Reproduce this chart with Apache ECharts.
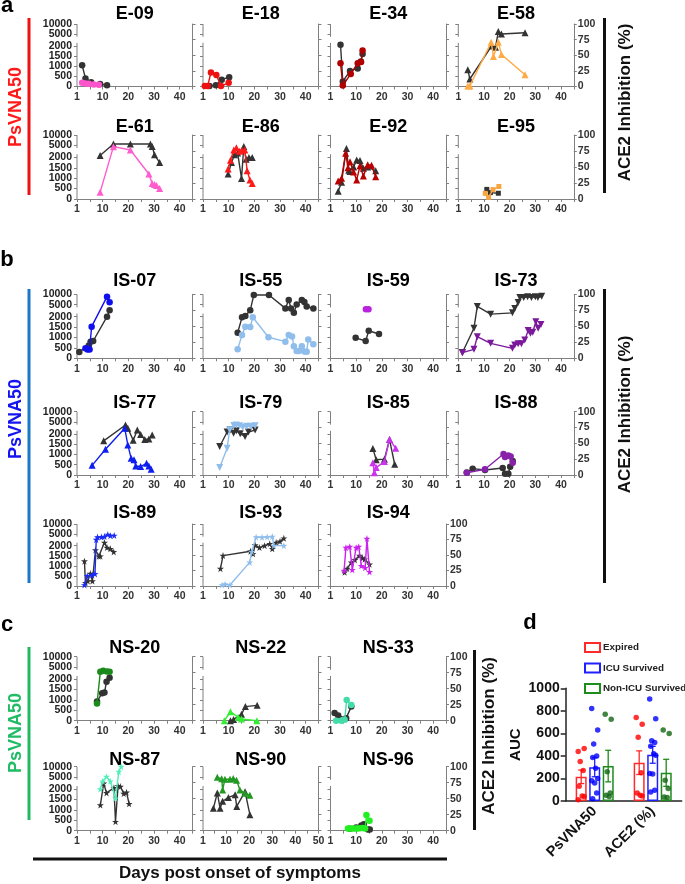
<!DOCTYPE html>
<html lang="en">
<head>
<meta charset="UTF-8">
<title>PsVNA50 and ACE2 inhibition kinetics</title>
<script src="https://cdn.jsdelivr.net/npm/echarts@6/dist/echarts.min.js"></script>
<style>
  html, body { margin: 0; padding: 0; background: #fff; }
  #main { width: 685px; height: 884px; }
</style>
</head>
<body>
<div id="main"></div>
<script>
// ---- data: [day, PsVNA50] (coloured, left axis) and [day, ACE2 %] (black, right axis)
const E09_psv = [[2,180],[3.3,145],[4.6,140],[6.5,100],[8.5,80]];
const E09_ace = [[2,34],[3.3,13],[5.5,7],[9,4],[11.7,2]];
const E18_psv = [[0.7,30],[1.8,20],[3.1,690],[5.2,570],[7,20],[10,180]];
const E18_ace = [[2.5,1],[5,2],[7.3,11],[10.2,15]];
const E34_psv = [[3.9,1150],[4.8,50],[7.9,620],[10.6,1150],[11.9,1200],[12.5,1770]];
const E34_ace = [[3.9,67],[4.8,8],[7.6,25],[10.6,29],[11.8,40],[12.5,52]];
const E58_psv = [[3.7,30],[4.5,30],[12.8,2180],[13.7,1480],[15.6,2180],[16.8,1570],[26,575]];
const E58_ace = [[3.7,27],[4.5,12],[13,65],[14.5,63],[15.6,88],[16.8,84],[26,86]];
const E61_psv = [[9,320],[14.2,4400],[20.8,2800],[28,1200],[29.3,750],[30.2,700],[31,650],[32.2,510]];
const E61_ace = [[9,68],[14.2,86],[20.8,86],[28.6,86],[29.3,82],[30.2,69],[32.2,57]];
const E86_psv = [[9.8,1440],[10.7,1860],[12,2800],[13,3900],[14.3,2300],[15.2,2700],[16.3,2800],[17.2,1360],[18.3,910],[19.2,750]];
const E86_ace = [[9.8,39],[11.1,57],[12.3,69],[13.5,72],[15,32],[15.9,82],[16.8,62],[17.9,65],[19.2,65]];
const E92_psv = [[3,870],[4.3,1000],[5.9,2200],[6.8,1500],[7.6,1790],[9,1300],[10.2,910],[11.5,1600],[12.8,1100],[14.5,1650],[16,1620],[17.6,1070]];
const E92_ace = [[3,12],[4.3,26],[6.2,79],[7.1,45],[7.6,43],[9,50],[10.2,61],[11.5,60],[12.8,48],[14.5,50],[17.6,44]];
const E95_psv = [[10.5,270],[11.8,80],[13.5,450],[15.8,600]];
const E95_ace = [[11.1,15],[12.5,10],[15.6,9]];

const IS07_psv = [[3.3,480],[4.1,420],[4.9,420],[5.7,1520],[11.7,8850],[12.7,6150]];
const IS07_ace = [[0.9,10],[4.6,20],[5.3,26],[6.3,27],[11.7,65],[12.7,75]];
const IS55_psv = [[13.5,430],[15.2,1120],[16.5,1520],[18.4,1500],[19.4,1970],[25.5,1010],[32.1,800],[33.4,1120],[34.7,1050],[35.4,580],[36.5,350],[37.3,350],[38.5,580],[39.5,330],[40.4,320],[41,900],[43,680]];
const IS55_ace = [[13.5,40],[15.2,64],[16.5,66],[18.4,75],[19.8,99],[25.7,99],[32.1,78],[33.4,91],[34.3,78],[35.4,71],[36.5,84],[38.5,91],[39.5,88],[40.4,81],[43,78]];
const IS59_psv = [[13.8,2800],[14.8,2800]];
const IS59_ace = [[9.8,32],[13.7,27],[14.9,43],[18.9,38]];
const IS73_psv = [[1.6,270],[6.1,430],[7.4,1040],[12.6,720],[21.1,480],[22,640],[23.3,700],[24.6,700],[25.9,880],[27.2,1330],[28.1,1200],[29,1250],[30.2,1760],[31.1,1440],[32.2,1620]];
const IS73_ace = [[1.6,9],[6.1,47],[7.4,81],[12.6,69],[21.1,71],[22,78],[23.3,87],[24,95],[25.5,95],[27,96],[28.5,95],[30,96],[31,95],[32.5,97]];
const IS77_psv = [[5.9,470],[11.1,1250],[18.6,2270],[19.8,1460],[21.1,810],[22.2,740],[22.9,440],[24.8,410],[27.1,570],[28,440],[28.9,280]];
const IS77_ace = [[10.4,54],[18.9,79],[19.8,74],[21.9,55],[23.5,71],[24.8,64],[26.4,56],[28,57],[29.3,63]];
const IS79_psv = [[6.5,370],[9.4,1300],[10.4,2180],[12,3300],[13,3550],[14.3,3150],[15.5,2500],[17,2900],[18.5,2900],[20.3,3150]];
const IS79_ace = [[6.5,45],[9.4,68],[10.6,71],[11.9,66],[13,70],[14.5,65],[16.4,61],[17.7,68],[20.3,71]];
const IS85_psv = [[16.5,600],[17.1,110],[17.8,360],[21,650],[23,1735],[25.4,1300]];
const IS85_ace = [[16.5,42],[17.8,24],[21,25],[23,56],[25,17]];
const IS88_psv = [[3.3,110],[10.4,280],[17.6,1020],[18.2,880],[19.5,950],[20.4,900],[21.2,600]];
const IS88_ace = [[3.3,4],[5.6,10],[10.4,8],[17.3,11],[18.2,2],[19.5,2],[20.2,13],[21.2,22]];
const IS89_psv = [[2.9,50],[4,500],[5.9,550],[7,600],[7.5,2300],[8,3500],[9.5,3500],[10.7,3800],[12,4800],[13,4200],[14.5,4300]];
const IS89_ace = [[2.9,40],[3.3,5],[4.2,8],[5.2,20],[6,8],[7.2,58],[8.5,48],[9.1,48],[10.7,70],[11.7,62],[13,60],[14.3,55]];
const IS93_psv = [[7.4,50],[8.6,90],[10.5,50],[18.2,1170],[19,1700],[20.7,3500],[23,3400],[25,3600],[27,3800],[27.6,2000],[31.5,2000]];
const IS93_ace = [[6.8,28],[7.8,49],[18.5,56],[19.5,52],[20.3,66],[22,62],[24,65],[26,68],[27,60],[28.5,70],[30,72],[31.5,77]];
const IS94_psv = [[5.3,765],[6,1900],[7.5,1950],[8.5,800],[10,1900],[11,1950],[12,1000],[13.5,900],[14.2,2750],[15.2,700]];
const IS94_ace = [[5.5,22],[6.5,28],[8.1,38],[9.5,42],[11.3,49],[12.5,45],[13.3,43],[15.2,35]];

const NS20_psv = [[7.8,830],[9.1,2800],[10.2,3250],[11.7,2900],[12.7,2800]];
const NS20_ace = [[7.8,30],[9.8,43],[10.7,44],[11.5,61],[12.7,67]];
const NS22_psv = [[8.3,0],[10.7,430],[13.7,170],[15,80],[21,0]];
const NS22_ace = [[10.7,0],[11.9,2],[15,10],[16.5,22],[21.1,24]];
const NS33_psv = [[2.2,0],[4.2,0],[5.5,40],[6.3,990],[8.1,760]];
const NS33_ace = [[1.6,12],[3,8],[6.1,4],[8.1,22]];
const NS87_psv = [[9.1,2000],[10,3000],[11.5,5200],[13,3000],[15,1560],[16.3,7600],[17.2,10000]];
const NS87_ace = [[9.1,40],[10.4,74],[11.5,59],[14.4,67],[15,14],[16,70],[16.9,69],[18.2,58],[19.3,60],[20.3,42]];
const NS90_psv = [[6.2,4900],[8.1,4200],[8.5,1960],[9.5,4000],[11.7,4000],[13.1,4300],[14.5,3500],[16,1960],[18.2,1800],[20.3,1700]];
const NS90_ace = [[4.5,35],[6.2,59],[7.4,35],[8.5,46],[11,52],[13.9,56],[14.6,38],[18.2,61],[20.3,25]];
const NS96_psv = [[6.8,110],[7.5,100],[8.5,100],[9.5,110],[10.5,100],[11.5,120],[12.5,130],[13.5,110],[14,755],[15.2,480]];
const NS96_ace = [[7.5,3],[10,5],[12,8],[13,10],[14.6,2],[15.3,2]];

// panel d: AUC
const dCats = ['PsVNA50', 'ACE2 (%)'];
const expiredMean = [215, 340];
const expiredSem = [60, 105];
const icuMean = [300, 410];
const icuSem = [85, 75];
const nonIcuMean = [310, 250];
const nonIcuSem = [140, 120];
const expiredPts = [[440,465,350,270,130,45,40,10], [740,680,565,250,70,50,45]];
const icuPts = [[820,630,505,400,385,290,200,180,160,70,20], [905,730,535,520,485,420,405,245,240,95,80]];
const nonIcuPts = [[770,725,260,70,50,40], [630,600,185,110,35,30]];

// left (PsVNA50) axis is piecewise: 0-2000 fine, 5000/10000 compressed
const LEFT_TICKS = [0, 500, 1000, 1500, 2000, 5000, 10000];
function toUnit(v) { return v <= 2305 ? v / 500 : 4.15 + v / 5000; }
const Y_TOP = toUnit(10000);
const LEFT_TICK_U = LEFT_TICKS.map(toUnit);
const BRK_LO = toUnit(2150), BRK_HI = toUnit(3700);

const STAR = 'path://M5,0 L6.2,3.6 L10,3.6 L6.9,5.9 L8.1,9.5 L5,7.3 L1.9,9.5 L3.1,5.9 L0,3.6 L3.8,3.6 Z';
const INV_TRI = 'path://M0,0 L10,0 L5,9 Z';

// layout
const COL_X = [77, 203, 330.5, 458.3];
const PW = 115.5;
const ROWS = {
  a1: [24, 86.5, 14], a2: [135, 199, 127],
  b1: [294.3, 358.3, 281], b2: [411.7, 475, 403], b3: [524, 586, 513],
  c1: [656.7, 720.7, 648], c2: [766.7, 830.7, 760]
};
const LAST_COL = {a1: 3, a2: 3, b1: 3, b2: 3, b3: 2, c1: 2, c2: 2};

const PANELS = [
  ['E-09', 0, 'a1', 'circle', '#ff55cc', E09_psv, E09_ace],
  ['E-18', 1, 'a1', 'circle', '#ee1111', E18_psv, E18_ace],
  ['E-34', 2, 'a1', 'circle', '#b00000', E34_psv, E34_ace],
  ['E-58', 3, 'a1', 'triangle', '#ffaa44', E58_psv, E58_ace],
  ['E-61', 0, 'a2', 'triangle', '#ff5ccd', E61_psv, E61_ace],
  ['E-86', 1, 'a2', 'triangle', '#ff1a1a', E86_psv, E86_ace],
  ['E-92', 2, 'a2', 'triangle', '#b80000', E92_psv, E92_ace],
  ['E-95', 3, 'a2', 'rect', '#f7a540', E95_psv, E95_ace],
  ['IS-07', 0, 'b1', 'circle', '#1010ee', IS07_psv, IS07_ace],
  ['IS-55', 1, 'b1', 'circle', '#8fbdec', IS55_psv, IS55_ace],
  ['IS-59', 2, 'b1', 'circle', '#bb22dd', IS59_psv, IS59_ace],
  ['IS-73', 3, 'b1', INV_TRI, '#7a1a9a', IS73_psv, IS73_ace],
  ['IS-77', 0, 'b2', 'triangle', '#0d1ef0', IS77_psv, IS77_ace],
  ['IS-79', 1, 'b2', INV_TRI, '#8fbdec', IS79_psv, IS79_ace],
  ['IS-85', 2, 'b2', 'triangle', '#cc33ee', IS85_psv, IS85_ace],
  ['IS-88', 3, 'b2', 'circle', '#8822aa', IS88_psv, IS88_ace],
  ['IS-89', 0, 'b3', STAR, '#1a2af5', IS89_psv, IS89_ace],
  ['IS-93', 1, 'b3', STAR, '#8fbdec', IS93_psv, IS93_ace],
  ['IS-94', 2, 'b3', STAR, '#cc22ee', IS94_psv, IS94_ace],
  ['NS-20', 0, 'c1', 'circle', '#1a8a1a', NS20_psv, NS20_ace],
  ['NS-22', 1, 'c1', 'triangle', '#33ee33', NS22_psv, NS22_ace],
  ['NS-33', 2, 'c1', 'circle', '#44ddaa', NS33_psv, NS33_ace],
  ['NS-87', 0, 'c2', STAR, '#55eebb', NS87_psv, NS87_ace],
  ['NS-90', 1, 'c2', 'triangle', '#229922', NS90_psv, NS90_ace, 50],
  ['NS-96', 2, 'c2', 'circle', '#22ee22', NS96_psv, NS96_ace]
];

const FONT = '"Liberation Sans", Arial, sans-serif';
const AXIS_GREY = '#808080';

const grid = [], xAxis = [], yAxis = [], series = [], graphic = [];

PANELS.forEach(function (p, i) {
  const name = p[0], col = p[1], rowKey = p[2], sym = p[3], color = p[4];
  const psv = p[5], ace = p[6], xm = p[7] || 45;
  const row = ROWS[rowKey];
  const left = COL_X[col], top = row[0], h = row[1] - row[0];
  grid.push({left: left, top: top, width: PW, height: h});

  const xt = [], xl = [];
  for (let d = 0; d <= xm; d += 5) { xt.push(d); if (d % 10 === 0) xl.push(d); }
  xAxis.push({
    gridIndex: i, type: 'value', min: 0, max: xm,
    axisLine: {lineStyle: {color: AXIS_GREY, width: 1}},
    axisTick: {customValues: xt, length: 3, lineStyle: {color: AXIS_GREY}},
    axisLabel: {customValues: xl, formatter: function (v) { return v === 0 ? '1' : String(v); },
      hideOverlap: false, showMinLabel: true, showMaxLabel: true,
      fontSize: 10.5, fontWeight: 'bold', color: '#333', margin: 5, fontFamily: FONT},
    splitLine: {show: false}
  });
  // left labels are drawn after layout (see below), the axis itself only gives ticks
  yAxis.push({
    gridIndex: i, type: 'value', min: 0, max: Y_TOP, position: 'left',
    axisLine: {show: false},
    axisTick: {show: true, customValues: LEFT_TICK_U, length: 3, lineStyle: {color: AXIS_GREY}},
    axisLabel: {show: false},
    splitLine: {show: false}
  });
  yAxis.push({
    gridIndex: i, type: 'value', min: 0, max: 100, interval: 25, position: 'right',
    axisLine: {show: true, lineStyle: {color: AXIS_GREY, width: 1}},
    axisTick: {show: true, length: 3, lineStyle: {color: AXIS_GREY}},
    axisLabel: {show: col === LAST_COL[rowKey], hideOverlap: false, showMinLabel: true, showMaxLabel: true,
      fontSize: 10.5, lineHeight: 10, fontWeight: 'bold', color: '#333', margin: 4, fontFamily: FONT},
    splitLine: {show: false}
  });

  const sz = sym === 'rect' ? 5 : (sym === 'circle' ? 6.5 : 7);
  // broken left axis line
  series.push({
    type: 'line', xAxisIndex: i, yAxisIndex: 2 * i, silent: true, clip: false,
    symbol: 'none', connectNulls: false,
    data: [[0, 0], [0, BRK_LO], [0, '-'], [0, BRK_HI], [0, Y_TOP]],
    lineStyle: {color: AXIS_GREY, width: 1}, z: 1
  });
  series.push({
    type: 'line', name: name + ' ACE2', xAxisIndex: i, yAxisIndex: 2 * i + 1,
    data: ace, symbol: sym, symbolSize: sz, silent: true,
    itemStyle: {color: '#333'}, lineStyle: {color: '#333', width: 1.4}, z: 3
  });
  series.push({
    type: 'line', name: name + ' PsVNA50', xAxisIndex: i, yAxisIndex: 2 * i,
    data: psv.map(function (d) { return [d[0], toUnit(d[1])]; }),
    symbol: sym, symbolSize: sz, silent: true,
    itemStyle: {color: color}, lineStyle: {color: color, width: 1.4}, z: 4
  });

  graphic.push({type: 'text', x: left + PW / 2, y: row[2],
    style: {text: name, align: 'center', verticalAlign: 'middle', fill: '#000',
      fontSize: 18, fontWeight: 'bold', fontFamily: FONT}});
});

// ---- panel d
const D = PANELS.length;
grid.push({left: 565.7, top: 688.3, width: 116, height: 112.7});
xAxis.push({
  gridIndex: D, type: 'category', data: dCats,
  axisLine: {lineStyle: {color: '#222', width: 1.5}},
  axisTick: {alignWithLabel: true, length: 4, lineStyle: {color: '#222', width: 1.5}},
  axisLabel: {rotate: 45, interval: 0, fontSize: 14.5, fontWeight: 'bold', color: '#111', margin: 8, fontFamily: FONT}
});
yAxis.push({
  gridIndex: D, type: 'value', min: 0, max: 1000, interval: 200,
  name: 'AUC', nameLocation: 'middle', nameGap: 42,
  nameTextStyle: {fontSize: 15, fontWeight: 'bold', color: '#111', fontFamily: FONT},
  axisLine: {show: true, lineStyle: {color: '#222', width: 1.5}},
  axisTick: {show: true, length: 5, lineStyle: {color: '#222', width: 1.5}},
  axisLabel: {formatter: function (v) { return String(v); }, hideOverlap: false,
    fontSize: 14, fontWeight: 'bold', color: '#111', margin: 6, fontFamily: FONT},
  splitLine: {show: false}
});

const GROUPS = [
  ['Expired', '#ff2a2a', '#ff0000', expiredMean, expiredSem, expiredPts, -13.5],
  ['ICU Survived', '#2020ff', '#0000ff', icuMean, icuSem, icuPts, 0],
  ['Non-ICU Survived', '#1c8c1c', '#116611', nonIcuMean, nonIcuSem, nonIcuPts, 13.5]
];
const JIT = [-3, 3, -1, 2, -2, 1, 3, -3, 0, 2, -2, 1];
GROUPS.forEach(function (g) {
  const gname = g[0], line = g[1], dot = g[2], mean = g[3], sem = g[4], pts = g[5], off = g[6];
  series.push({
    type: 'bar', name: gname, xAxisIndex: D, yAxisIndex: 2 * D, data: mean,
    barWidth: 11, barGap: '23%', silent: true,
    itemStyle: {color: '#fff', borderColor: line, borderWidth: 1.5}, z: 2
  });
  series.push({
    type: 'custom', xAxisIndex: D, yAxisIndex: 2 * D, silent: true, z: 3,
    data: mean.map(function (m, k) { return [k, m, sem[k]]; }),
    renderItem: function (params, api) {
      const k = api.value(0), m = api.value(1), e = api.value(2);
      const a = api.coord([k, m + e]), b = api.coord([k, m - e]);
      const x = a[0] + off;
      const st = {stroke: line, lineWidth: 1.3};
      return {type: 'group', children: [
        {type: 'line', shape: {x1: x, y1: a[1], x2: x, y2: b[1]}, style: st},
        {type: 'line', shape: {x1: x - 3, y1: a[1], x2: x + 3, y2: a[1]}, style: st},
        {type: 'line', shape: {x1: x - 3, y1: b[1], x2: x + 3, y2: b[1]}, style: st}
      ]};
    }
  });
  const data = [];
  pts.forEach(function (arr, k) {
    arr.forEach(function (v, j) {
      data.push({value: [k, v], symbolOffset: [off + JIT[j % JIT.length], 0]});
    });
  });
  series.push({
    type: 'scatter', name: gname + ' pts', xAxisIndex: D, yAxisIndex: 2 * D,
    data: data, symbolSize: 5.5, itemStyle: {color: dot}, silent: true, z: 4
  });
});

// ---- static labels and section bars
function vtext(x, y, text, color, size) {
  graphic.push({type: 'text', x: x, y: y, rotation: Math.PI / 2,
    style: {text: text, align: 'center', verticalAlign: 'middle', fill: color,
      fontSize: size, fontWeight: 'bold', fontFamily: FONT}});
}
function bar(x, y, w, h, color) {
  graphic.push({type: 'rect', shape: {x: x, y: y, width: w, height: h}, style: {fill: color}});
}
function letter(x, y, t) {
  graphic.push({type: 'text', x: x, y: y, style: {text: t, align: 'center', verticalAlign: 'middle',
    fill: '#000', fontSize: 22, fontWeight: 'bold', fontFamily: FONT}});
}
letter(7, 6, 'a'); letter(7, 260, 'b'); letter(7, 625, 'c'); letter(530, 623, 'd');

bar(27.5, 18, 3, 177, '#ee1111');
vtext(16, 107, 'PsVNA50', '#ff1a1a', 18);
bar(27.5, 289, 3, 294, '#1b78c6');
vtext(16, 419, 'PsVNA50', '#1414f0', 18);
bar(27.5, 647, 3, 173, '#22b862');
vtext(16, 733, 'PsVNA50', '#22bb66', 18);

bar(603, 18, 3, 175, '#111');
vtext(625, 102.5, 'ACE2 Inhibition (%)', '#111', 17);
bar(603, 289, 3, 294, '#111');
vtext(625, 414.5, 'ACE2 Inhibition (%)', '#111', 17);
bar(473, 650, 3, 180, '#111');
vtext(489, 736, 'ACE2 Inhibition (%)', '#111', 17);

bar(33, 857.5, 414, 3, '#111');
graphic.push({type: 'text', x: 240, y: 873, style: {text: 'Days post onset of symptoms',
  align: 'center', verticalAlign: 'middle', fill: '#111', fontSize: 17, fontWeight: 'bold', fontFamily: FONT}});

const chart = echarts.init(document.getElementById('main'));
chart.setOption({
  animation: false,
  textStyle: {fontFamily: FONT},
  legend: {
    data: ['Expired', 'ICU Survived', 'Non-ICU Survived'],
    orient: 'vertical', left: 579, top: 637, icon: 'rect',
    itemWidth: 15, itemHeight: 9, itemGap: 9.5,
    textStyle: {fontSize: 9.8, fontWeight: 'bold', color: '#222', fontFamily: FONT, padding: [0, 0, 0, -2]},
    selectedMode: false
  },
  grid: grid,
  xAxis: xAxis,
  yAxis: yAxis,
  series: series,
  graphic: graphic
});

// PsVNA50 tick labels on the first column, placed through the axis scale
PANELS.forEach(function (p, i) {
  if (p[1] !== 0) return;
  LEFT_TICK_U.forEach(function (u, k) {
    const y = chart.convertToPixel({yAxisIndex: 2 * i}, u);
    graphic.push({type: 'text', x: COL_X[0] - 5, y: y,
      style: {text: String(LEFT_TICKS[k]), align: 'right', verticalAlign: 'middle', fill: '#222',
        fontSize: 10.5, fontWeight: 'bold', fontFamily: FONT}});
  });
});
chart.setOption({graphic: graphic});
</script>
</body>
</html>
